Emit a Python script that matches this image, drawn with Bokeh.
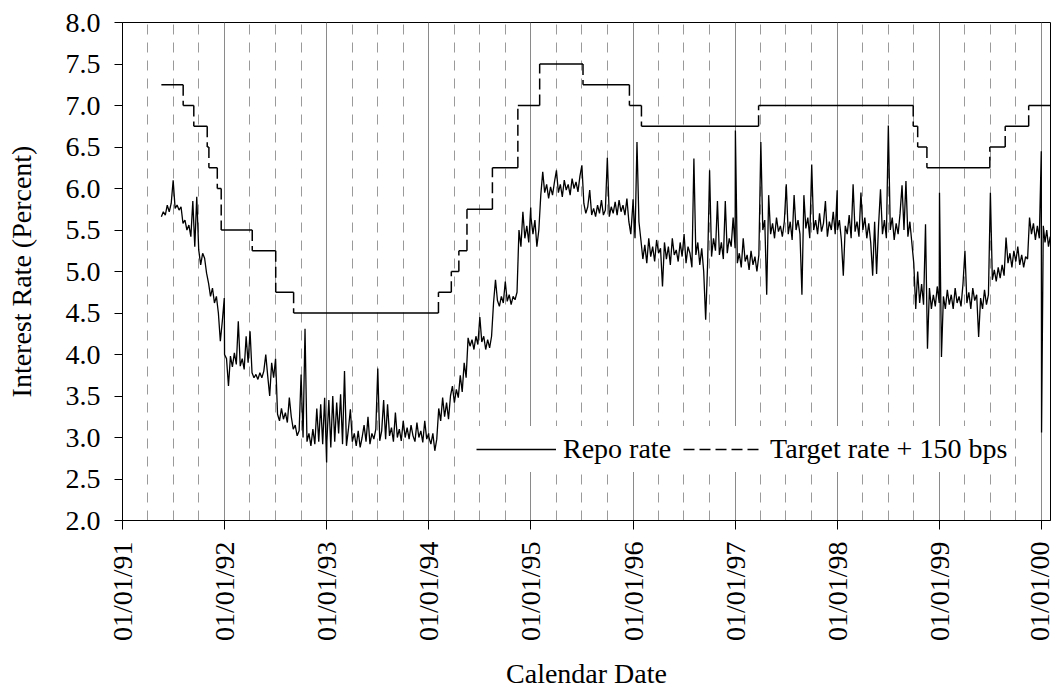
import pandas as pd
from math import pi
from bokeh.plotting import figure
from bokeh.models import (Range1d, FixedTicker, DatetimeTickFormatter, PrintfTickFormatter,
                          Grid, Legend, LegendItem, ColumnDataSource)
from bokeh.embed import file_html
from bokeh.resources import INLINE

# ---------------- data ----------------
# Repo rate, roughly weekly readings; each list spans its calendar segment
repo_1991 = [5.66, 5.72, 5.68, 5.80, 5.72, 5.82, 6.10, 5.76, 5.80, 5.74, 5.78, 5.58, 5.62, 5.50,
             5.56, 5.42, 5.85, 5.30, 5.90, 5.26, 5.08, 5.22, 5.16, 4.98, 4.86, 4.70, 4.80, 4.62,
             4.70, 4.50, 4.16, 4.40, 4.68]
repo_1992 = [4.00, 3.95, 3.62, 3.98, 3.85, 4.02, 3.88, 4.40, 3.86, 3.95, 3.82, 4.22, 3.90, 4.28,
             3.78, 3.72, 3.76, 3.70, 3.78, 3.72, 3.80, 4.00, 3.74, 3.50, 3.90, 3.72, 3.95, 3.28,
             3.20, 3.35, 3.22, 3.30, 3.18, 3.48, 3.25, 3.10, 3.15, 3.02, 3.08, 3.76, 3.00, 4.31,
             2.95, 3.05, 2.90, 3.10, 2.92, 3.35, 2.95, 3.40, 2.92, 3.48, 2.70]
repo_1993 = [2.95, 3.45, 2.88, 3.50, 2.95, 3.42, 3.05, 3.52, 2.92, 3.80, 2.90, 3.10, 3.34, 2.95,
             3.05, 2.90, 3.08, 2.88, 3.00, 3.15, 2.95, 3.25, 2.92, 3.05, 2.98, 3.10, 3.83, 2.96,
             3.08, 3.45, 2.98, 3.40, 3.02, 3.12, 2.95, 3.30, 3.00, 3.10, 2.96, 3.20, 3.00, 3.12,
             2.98, 3.15, 3.02, 2.95, 3.18, 3.00, 3.08, 2.94, 3.20, 2.98, 3.05]
repo_1994 = [3.00, 2.92, 3.05, 2.84, 2.98, 3.35, 3.20, 3.48, 3.25, 3.42, 3.22, 3.50, 3.62, 3.42,
             3.58, 3.48, 3.75, 3.55, 3.90, 3.72, 4.20, 4.10, 4.18, 4.06, 4.22, 4.12, 4.45, 4.15,
             4.22, 4.06, 4.18, 4.08, 4.22, 4.62, 4.90, 4.65, 4.58, 4.70, 4.62, 4.88, 4.64, 4.72,
             4.60, 4.70, 4.66, 4.75, 5.50, 5.30, 5.72, 5.40, 5.55, 5.35, 5.77]
repo_1995 = [5.65, 5.45, 5.62, 5.30, 5.50, 5.92, 6.20, 5.95, 6.05, 5.88, 6.02, 5.92, 6.08, 6.22,
             5.95, 6.05, 5.90, 6.10, 5.98, 6.05, 5.92, 6.12, 6.00, 6.08, 5.96, 6.15, 6.28, 5.82,
             5.70, 5.78, 5.98, 5.68, 5.76, 5.66, 5.80, 5.70, 5.86, 5.68, 5.74, 6.37, 5.66, 5.78,
             5.70, 5.84, 5.68, 5.86, 5.72, 5.80, 5.68, 5.88, 5.60, 5.45, 5.80]
repo_1996 = [5.87, 5.40, 6.56, 5.60, 5.38, 5.15, 5.32, 5.10, 5.40, 5.18, 5.30, 5.12, 5.38, 5.22,
             5.28, 4.82, 5.35, 5.15, 5.30, 5.08, 5.40, 5.20, 5.26, 5.12, 5.35, 5.18, 5.45, 5.10,
             5.30, 5.22, 5.05, 6.36, 5.20, 5.35, 5.08, 5.28, 5.00, 4.42, 5.10, 6.22, 5.18, 5.40,
             5.25, 5.85, 5.20, 5.35, 5.15, 5.85, 5.22, 5.40, 5.30, 5.65, 5.28]
repo_1997 = [6.70, 5.10, 5.22, 5.05, 5.40, 5.12, 5.20, 5.02, 5.25, 5.08, 5.18, 5.00, 5.20, 6.56,
             5.50, 5.62, 4.72, 5.92, 5.45, 5.58, 5.40, 5.65, 5.48, 5.55, 5.42, 5.60, 6.05, 5.45,
             5.60, 5.38, 5.92, 5.50, 5.62, 5.45, 4.72, 5.92, 5.52, 5.65, 5.40, 6.29, 5.50, 5.62,
             5.45, 5.70, 5.48, 5.58, 5.85, 5.42, 5.60, 5.50, 5.72, 5.45, 5.98]
repo_1998 = [5.50, 5.62, 5.38, 4.95, 5.55, 5.45, 5.68, 5.40, 6.05, 5.48, 5.60, 5.42, 5.95, 5.50,
             5.65, 5.40, 5.58, 5.35, 4.95, 5.60, 4.97, 5.55, 5.99, 5.45, 5.62, 5.40, 6.76, 5.50,
             5.65, 5.38, 5.58, 5.45, 5.70, 6.04, 5.50, 6.09, 5.42, 5.60, 5.35, 5.10, 4.55, 5.00,
             4.62, 4.85, 4.60, 5.57, 4.07, 4.80, 4.55, 4.72, 4.58, 4.82, 4.62]
repo_1999 = [5.95, 3.97, 4.70, 4.55, 4.78, 4.60, 4.72, 4.55, 4.80, 4.62, 4.70, 4.58, 4.85, 5.25,
             4.62, 4.75, 4.55, 4.80, 4.65, 4.72, 4.21, 4.68, 4.55, 4.78, 4.60, 4.72, 5.95, 4.90,
             5.02, 4.88, 5.05, 4.92, 5.08, 4.95, 5.41, 5.10, 5.22, 5.05, 5.25, 5.12, 5.30, 5.08,
             5.20, 5.05, 5.18, 5.15, 5.65, 5.45, 5.58, 5.38, 5.55, 5.40, 6.45]
repo_2000 = [3.06, 5.55, 5.35, 5.50, 5.30, 5.42]

repo_segments = [
    ("1991-05-20", "1991-12-31", repo_1991),
    ("1992-01-01", "1992-12-31", repo_1992),
    ("1993-01-01", "1993-12-31", repo_1993),
    ("1994-01-01", "1994-12-31", repo_1994),
    ("1995-01-01", "1995-12-31", repo_1995),
    ("1996-01-01", "1996-12-31", repo_1996),
    ("1997-01-01", "1997-12-31", repo_1997),
    ("1998-01-01", "1998-12-31", repo_1998),
    ("1999-01-01", "1999-12-31", repo_1999),
    ("2000-01-01", "2000-02-01", repo_2000),
]

# Fed funds target + 150 bps: change dates and levels
target_dates = ["1991-05-20", "1991-08-06", "1991-09-13", "1991-10-31", "1991-11-06",
                "1991-12-06", "1991-12-20", "1992-04-09", "1992-07-02", "1992-09-04",
                "1994-02-04", "1994-03-22", "1994-04-18", "1994-05-17", "1994-08-16",
                "1994-11-15", "1995-02-01", "1995-07-06", "1995-12-19", "1996-01-31",
                "1997-03-25", "1998-09-29", "1998-10-15", "1998-11-17", "1999-06-30",
                "1999-08-24", "1999-11-16"]
target_values = [7.25, 7.00, 6.75, 6.50, 6.25, 6.00, 5.50, 5.25, 4.75, 4.50,
                 4.75, 5.00, 5.25, 5.75, 6.25, 7.00, 7.50, 7.25, 7.00, 6.75,
                 7.00, 6.75, 6.50, 6.25, 6.50, 6.75, 7.00]
target_end = "2000-02-02"

year_ticks = [f"{y}-01-01" for y in range(1991, 2001)]
y_ticks = [2.0, 2.5, 3.0, 3.5, 4.0, 4.5, 5.0, 5.5, 6.0, 6.5, 7.0, 7.5, 8.0]

# ---------------- build ----------------
def ms(s):
    return pd.Timestamp(s).value // 10**6

rx, ry = [], []
for s, e, v in repo_segments:
    rx.extend(pd.date_range(s, e, periods=len(v)))
    ry.extend(v)

tdates = [pd.Timestamp(d) for d in target_dates] + [pd.Timestamp(target_end)]
hsrc = ColumnDataSource(dict(x0=tdates[:-1], x1=tdates[1:], y=target_values))
vsrc = ColumnDataSource(dict(x=tdates[1:-1], y0=target_values[:-1], y1=target_values[1:]))

FONT = "'Liberation Serif', 'Times New Roman', serif"
FS = "28px"

p = figure(width=1054, height=694, x_axis_type="datetime",
           x_range=Range1d(ms("1991-01-01"), ms("2000-02-02")), y_range=Range1d(2.0, 8.0),
           output_backend="svg", toolbar_location=None,
           min_border_left=122, min_border_right=4, min_border_top=22, min_border_bottom=174)
p.background_fill_color = "white"
p.border_fill_color = "white"
p.outline_line_color = "black"
p.outline_line_width = 1

# grids
p.ygrid.visible = False
p.xgrid.ticker = FixedTicker(ticks=[ms(d) for d in year_ticks[1:]])
p.xgrid.grid_line_color = "#8a8a8a"
p.xgrid.grid_line_width = 1
quarters = [ms(f"{y}-{m}-01") for y in range(1991, 2000) for m in ("04", "07", "10")]
qgrid = Grid(dimension=0, ticker=FixedTicker(ticks=quarters),
             grid_line_color="#9a9a9a", grid_line_width=1, grid_line_dash="10 8")
p.add_layout(qgrid)

# axes
p.xaxis.ticker = FixedTicker(ticks=[ms(d) for d in year_ticks])
fmt = "%m/%d/%y"
p.xaxis.formatter = DatetimeTickFormatter(years=fmt, months=fmt, days=fmt, hours=fmt,
                                          hourmin=fmt, minutes=fmt, minsec=fmt, seconds=fmt,
                                          milliseconds=fmt, microseconds=fmt)
p.xaxis.major_label_orientation = pi / 2
p.yaxis.ticker = FixedTicker(ticks=y_ticks)
p.yaxis.formatter = PrintfTickFormatter(format="%.1f")
for ax in (p.xaxis[0], p.yaxis[0]):
    ax.axis_line_color = "black"
    ax.axis_line_width = 1
    ax.major_tick_line_color = "black"
    ax.major_tick_in = 0
    ax.minor_tick_line_color = None
    ax.major_label_text_font = FONT
    ax.major_label_text_font_size = FS
    ax.major_label_text_color = "black"
    ax.axis_label_text_font = FONT
    ax.axis_label_text_font_size = FS
    ax.axis_label_text_font_style = "normal"
    ax.axis_label_text_color = "black"
p.xaxis.major_tick_out = 9
p.xaxis.major_label_standoff = 12
p.xaxis.axis_label = "Calendar Date"
p.xaxis.axis_label_standoff = 14
p.yaxis.major_tick_out = 8
p.yaxis.major_label_standoff = 14
p.yaxis.axis_label = "Interest Rate (Percent)"
p.yaxis.axis_label_standoff = 26

# series
r_repo = p.line(rx, ry, line_color="black", line_width=1.3)
p.segment(x0="x0", y0="y", x1="x1", y1="y", source=hsrc, line_color="black", line_width=1.5)
r_tv = p.segment(x0="x", y0="y0", x1="x", y1="y1", source=vsrc, line_color="black",
                 line_width=1.5, line_dash="11 5")

legend = Legend(items=[LegendItem(label="Repo rate", renderers=[r_repo]),
                       LegendItem(label="Target rate + 150 bps", renderers=[r_tv])],
                location=(347, 48), orientation="horizontal",
                label_text_font=FONT, label_text_font_size=FS, label_text_color="black",
                glyph_width=80, glyph_height=28, label_standoff=7, spacing=12,
                padding=7, margin=0, background_fill_color="white", background_fill_alpha=1,
                border_line_alpha=0)
p.add_layout(legend)

open("out.html", "w").write(file_html(p, INLINE))
